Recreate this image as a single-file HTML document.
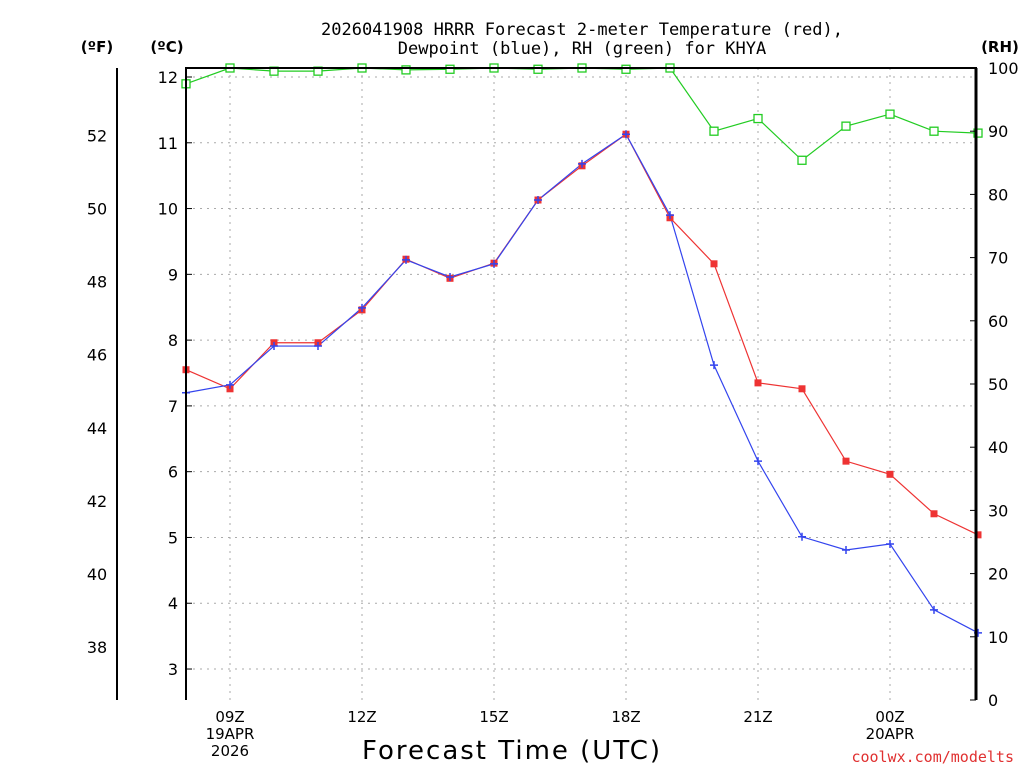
<!DOCTYPE html>
<html><head><meta charset="utf-8"><style>
body{margin:0;background:#fff;}
svg text{font-family:"DejaVu Sans","Liberation Sans",sans-serif;}
</style></head><body>
<svg id="c" width="1024" height="768" xmlns="http://www.w3.org/2000/svg">
<g id="grid"></g>
<g id="series"></g>
<g id="axes"></g>
<text x="582" y="35" font-size="17" text-anchor="middle" font-family="Liberation Mono" style="font-family:'DejaVu Sans Mono','Liberation Mono',monospace">2026041908 HRRR Forecast 2-meter Temperature (red),</text>
<text x="582" y="54" font-size="17" text-anchor="middle" style="font-family:'DejaVu Sans Mono','Liberation Mono',monospace">Dewpoint (blue), RH (green) for KHYA</text>
<text x="97" y="52" font-size="15" font-weight="bold" text-anchor="middle">(ºF)</text>
<text x="167" y="52" font-size="15" font-weight="bold" text-anchor="middle">(ºC)</text>
<text x="1000" y="52" font-size="15" font-weight="bold" text-anchor="middle">(RH)</text>
<text x="512" y="759" font-size="26" text-anchor="middle" letter-spacing="2">Forecast Time (UTC)</text>
<text x="1014" y="762" font-size="15" fill="#e03030" text-anchor="end" style="font-family:'DejaVu Sans Mono','Liberation Mono',monospace">coolwx.com/modelts</text>
</svg>
<script>
const hours=[0,1,2,3,4,5,6,7,8,9,10,11,12,13,14,15,16,17,18];
const tempC=[7.55,7.26,7.96,7.96,8.46,9.23,8.94,9.17,10.13,10.65,11.13,9.86,9.16,7.35,7.26,6.16,5.96,5.36,5.04];
const dewC=[7.20,7.32,7.91,7.91,8.49,9.22,8.96,9.16,10.13,10.68,11.13,9.90,7.62,6.16,5.01,4.81,4.90,3.90,3.55];
const rh=[97.5,100,99.5,99.5,100,99.7,99.8,100,99.8,100,99.8,100,90,92,85.4,90.8,92.7,90,89.7];
const cTicks=[3,4,5,6,7,8,9,10,11,12];
const fTicks=[38,40,42,44,46,48,50,52];
const rhTicks=[0,10,20,30,40,50,60,70,80,90,100];
const xTicks=[{h:1,l:["09Z","19APR","2026"]},{h:4,l:["12Z"]},{h:7,l:["15Z"]},{h:10,l:["18Z"]},{h:13,l:["21Z"]},{h:16,l:["00Z","20APR"]}];
const L=186,R=976,T=68,B=700;
const X=h=>L+h*44;
const YC=c=>77+(12-c)*65.78;
const YF=f=>YC((f-32)/1.8);
const YR=r=>Math.max(T,B-r*6.32);
const NS="http://www.w3.org/2000/svg";
function mk(p,t,a){const e=document.createElementNS(NS,t);for(const k in a)e.setAttribute(k,a[k]);p.appendChild(e);return e;}
const g=document.getElementById('grid'),s=document.getElementById('series'),ax=document.getElementById('axes');
cTicks.forEach(c=>{const l=mk(g,'line',{x1:L,x2:R,y1:YC(c),y2:YC(c),stroke:'#aaa','stroke-dasharray':'2,5'});


const t=mk(ax,'text',{x:L-8,y:YC(c)+6,'font-size':16,'text-anchor':'end'});t.textContent=c;


mk(ax,'line',{x1:L,x2:L+6,y1:YC(c),y2:YC(c),stroke:'#000'});});
xTicks.forEach(o=>{const l=mk(g,'line',{x1:X(o.h),x2:X(o.h),y1:T,y2:B,stroke:'#aaa','stroke-dasharray':'2,5'});


o.l.forEach((s2,i)=>{const t=mk(ax,'text',{x:X(o.h),y:722+i*17,'font-size':15,'text-anchor':'middle'});t.textContent=s2;

});});
fTicks.forEach(f=>{const t=mk(ax,'text',{x:97,y:YF(f)+6,'font-size':16,'text-anchor':'middle'});t.textContent=f;

});
rhTicks.forEach(r=>{const t=mk(ax,'text',{x:988,y:YR(r)+6,'font-size':16});t.textContent=r;


mk(ax,'line',{x1:R-6,x2:R,y1:YR(r),y2:YR(r),stroke:'#000'});});
const box=mk(ax,'path',{d:`M${L},${B}V${T}H${R}V${B}`,fill:'none',stroke:'#000','stroke-width':2});


mk(ax,'line',{x1:R,x2:R,y1:T,y2:B,stroke:'#000','stroke-width':3});
const fl=mk(ax,'line',{x1:117,x2:117,y1:68,y2:700,stroke:'#000','stroke-width':2});


function line(vals,yf,col,name){const p=mk(s,'polyline',{points:hours.map((h,i)=>X(h)+','+yf(vals[i])).join(' '),fill:'none',stroke:col,'stroke-width':1.2});

}
line(rh,YR,'#22cc22','rh-line');line(tempC,YC,'#ee3333','temp-line');line(dewC,YC,'#3344ee','dewpoint-line');
hours.forEach((h,i)=>{const m=mk(s,'rect',{x:X(h)-4,y:YR(rh[i])-4,width:8,height:8,fill:'#fff',stroke:'#22cc22','stroke-width':1.3});


const t=mk(s,'rect',{x:X(h)-3.5,y:YC(tempC[i])-3.5,width:7,height:7,fill:'#ee3333'});


const d=mk(s,'path',{d:`M${X(h)-4},${YC(dewC[i])}h8M${X(h)},${YC(dewC[i])-4}v8`,stroke:'#3344ee','stroke-width':1.5});

});
</script>
</body></html>
